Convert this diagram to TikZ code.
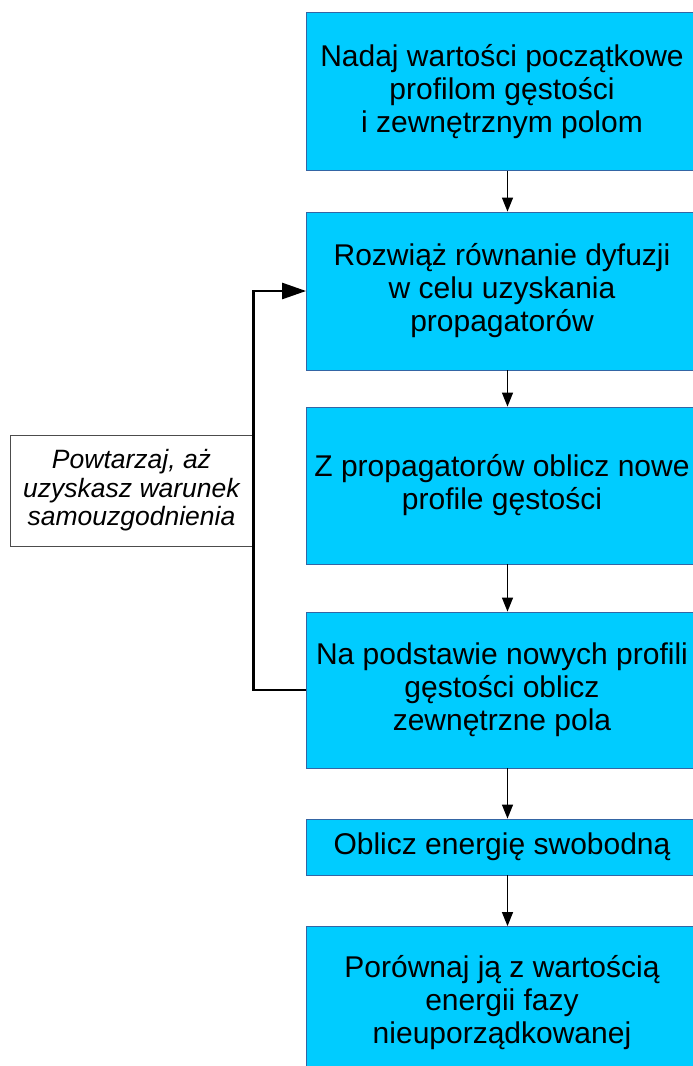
\documentclass[tikz,border=0pt]{standalone}
\usepackage{fontspec}
\setmainfont{Liberation Sans}
\usepackage{tikz}
\usepackage{xcolor}
\usetikzlibrary{arrows.meta, positioning}
\definecolor{boxfill}{RGB}{0,204,255}
\definecolor{boxline}{RGB}{52,101,164}

\begin{document}
\begin{tikzpicture}[x=1pt, y=-1pt,
  stepbox/.style={draw=boxline, line width=0.8pt, fill=boxfill, minimum width=391pt, align=center, inner sep=0pt, font=\fontsize{30}{33}\selectfont},
  notebox/.style={draw=black!70, line width=0.9pt, fill=white, minimum width=243pt, minimum height=111pt, align=center, inner sep=0pt, font=\fontsize{26.5}{28.5}\selectfont\itshape},
  flow/.style={line width=1.2pt, -{Triangle[length=14pt, width=11pt]}},
  loopback/.style={line width=2.6pt, -{Triangle[length=24pt, width=16pt]}}]
\useasboundingbox (0,0) rectangle (693,1066);
% main column
\node[stepbox, minimum height=158pt] (init) at (502,91.5) {Nadaj wartości początkowe\\profilom gęstości\\ i zewnętrznym polom};
\node[stepbox, minimum height=158pt] (diff) at (502,291) {Rozwiąż równanie dyfuzji\\w celu uzyskania\\propagatorów};
\node[stepbox, minimum height=157pt] (dens) at (502,485.5) {Z propagatorów oblicz nowe\\profile gęstości};
\node[stepbox, minimum height=156pt] (field) at (502,690) {Na podstawie nowych profili\\gęstości oblicz\\zewnętrzne pola};
\node[stepbox, minimum height=56pt] (energy) at (502,847) {Oblicz energię swobodną};
\node[stepbox, minimum height=153pt] (cmp) at (502,1003) {Porównaj ją z wartością\\energii fazy\\nieuporządkowanej};
%
\draw[flow] ([xshift=5.5pt]init.south) -- ([xshift=5.5pt]diff.north);
\draw[flow] ([xshift=5.5pt]diff.south) -- ([xshift=5.5pt]dens.north);
\draw[flow] ([xshift=5.5pt]dens.south) -- ([xshift=5.5pt]field.north);
\draw[flow] ([xshift=5.5pt]field.south) -- ([xshift=5.5pt]energy.north);
\draw[flow] ([xshift=5.5pt]energy.south) -- ([xshift=5.5pt]cmp.north);
% loop back
\node[notebox] (repeat) at (131.5,490.5) {Powtarzaj, aż\\uzyskasz warunek\\samouzgodnienia};
\draw[loopback] (field.west) -- (repeat.east |- field.west) |- (diff.west);
\end{tikzpicture}
\end{document}
